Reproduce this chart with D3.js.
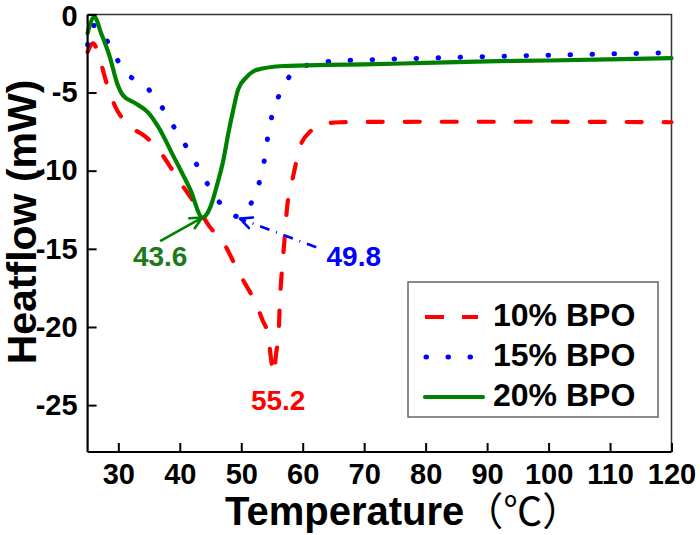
<!DOCTYPE html>
<html>
<head>
<meta charset="utf-8">
<script src="https://cdn.jsdelivr.net/npm/d3@7/dist/d3.min.js"></script>
<style>
  body { margin: 0; background: #fff; }
  svg { display: block; }
  text { font-family: "Liberation Sans", Arial, "Noto Sans CJK SC", sans-serif; font-weight: bold; }
</style>
</head>
<body>
<svg id="chart" width="700" height="535"></svg>
<script>
// ---------- data ----------
const seriesNames = ["10% BPO", "15% BPO", "20% BPO"];
const seriesColors = ["#ff0000", "#0000ff", "#008000"];

const temp10 = [25, 25.9, 27, 28.1, 29.5, 31.1, 32.5, 34.0, 36.8, 38.7, 40, 42.8, 44.7, 47.4, 48.7, 50.3, 52.0, 53.4, 54.4, 54.8, 55.25, 55.7, 56.06, 56.3, 56.5, 57.0, 57.5, 58.1, 58.8, 59.4, 61.2, 63.9, 66, 70, 80, 90, 100, 110, 120];
const flow10 = [-2.4, -1.85, -2.9, -4.4, -5.9, -6.85, -7.35, -7.7, -8.8, -9.9, -10.7, -12.3, -13.5, -14.8, -15.8, -17.0, -18.2, -19.5, -20.6, -21.9, -23.0, -21.6, -20.6, -18.2, -17.0, -14.6, -12.2, -11.0, -9.7, -8.66, -7.5, -6.98, -6.9, -6.88, -6.87, -6.87, -6.87, -6.88, -6.9];

const temp15 = [25, 25.7, 26.8, 28.9, 31.1, 34.6, 37.3, 39.5, 41.7, 43.8, 46.0, 48.0, 49.5, 50.8, 51.7, 53.1, 53.9, 54.4, 55.2, 56.6, 57.8, 59.3, 62.8, 66.6, 70.2, 80, 90, 100, 110, 120];
const flow15 = [-1.95, -0.7, -0.8, -2.27, -3.66, -4.66, -6.06, -7.5, -8.87, -10.36, -11.8, -12.6, -12.95, -12.6, -12.0, -10.5, -9.0, -7.6, -6.2, -4.83, -4.0, -3.5, -3.08, -2.96, -2.91, -2.8, -2.7, -2.62, -2.53, -2.45];

const temp20 = [25, 26.1, 27.2, 28.6, 29.8, 30.8, 32.7, 34.9, 36.5, 39.0, 41.7, 43.7, 45.0, 46.0, 47.1, 47.9, 48.7, 49.5, 50.9, 52.5, 56.9, 63.9, 70, 80, 90, 100, 110, 120];
const flow20 = [-1.2, -0.15, -1.2, -2.7, -4.4, -5.2, -5.67, -6.3, -7.2, -9.1, -11.2, -13.0, -12.3, -11.0, -9.3, -7.6, -6.1, -4.8, -4.0, -3.55, -3.3, -3.23, -3.2, -3.1, -3.0, -2.95, -2.88, -2.8];

const xTicks = [30, 40, 50, 60, 70, 80, 90, 100, 110, 120];
const yTicks = [0, -5, -10, -15, -20, -25];

// annotations: label text, label position, arrow tail -> tip (data units)
const annLabels = ["43.6", "49.8", "55.2"];
const annLabelT = [36.8, 68.3, 56.0];
const annLabelV = [-16.1, -16.1, -25.3];
const arrowTailT = [36.8, 62.2];
const arrowTailV = [-14.5, -14.9];
const arrowTipT = [43.65, 49.8];
const arrowTipV = [-13.0, -13.07];

// ---------- layout ----------
const svg = d3.select("#chart");
const L = 87.6, R = 671.5, T = 14.4, B = 452;
const x = d3.scaleLinear().domain([25, 120]).range([L, R]);
const y = d3.scaleLinear().domain([-28, 0]).range([B, T]);

// frame (top/right)
svg.append("path")
  .attr("d", `M${L},${T}H${R}V${B}`)
  .attr("fill", "none").attr("stroke", "#333").attr("stroke-width", 1.5);

// series
const line = d3.line().x(d => x(d[0])).y(d => y(d[1])).curve(d3.curveMonotoneX);
const series = [
  d3.zip(temp10, flow10),
  d3.zip(temp15, flow15),
  d3.zip(temp20, flow20)
];
const dashes = ["15,22", "0.5,21.5", null];
const widths = [4.2, 5, 4.2];
const g = svg.append("g");
series.forEach((s, i) => {
  const p = g.append("path").datum(s)
    .attr("d", line)
    .attr("fill", "none")
    .attr("stroke", seriesColors[i])
    .attr("stroke-width", widths[i])
    .attr("stroke-linecap", "round")
    .attr("stroke-linejoin", "round");
  if (dashes[i]) p.attr("stroke-dasharray", dashes[i]);
});

// axes
const xAxis = d3.axisBottom(x).tickValues(xTicks).tickSizeInner(-9).tickSizeOuter(0).tickPadding(11).tickFormat(d3.format("d"));
const gx = svg.append("g").attr("transform", `translate(0,${B})`).call(xAxis);
const yAxis = d3.axisLeft(y).tickValues(yTicks).tickSizeInner(-9).tickSizeOuter(0).tickPadding(10).tickFormat(d => d === 0 ? "0" : String(d));
const gy = svg.append("g").attr("transform", `translate(${L},0)`).call(yAxis);
[gx, gy].forEach(a => {
  a.select(".domain").attr("stroke", "#000").attr("stroke-width", 2.2);
  a.selectAll(".tick line").attr("stroke", "#000").attr("stroke-width", 2);
  a.selectAll(".tick text").attr("fill", "#000").style("font-size", "29px").style("font-weight", "bold")
    .style("font-family", '"Liberation Sans", Arial, sans-serif');
});
gx.select(".domain").attr("d", `M${L},0H${R}`);
gy.select(".domain").attr("d", `M0,${B}V${T}`);
gy.selectAll(".tick text").filter(d => d === 0).attr("dy", "0.36em").attr("y", 1);

// axis titles
const xt = svg.append("text").attr("x", 225).attr("y", 525)
  .style("font-size", "40px").attr("fill", "#000");
xt.append("tspan").text("Temperature");
xt.append("tspan").style("font-family", '"Noto Sans CJK SC", sans-serif')
  .style("font-weight", "normal").style("font-size", "39px").text("（℃）");
svg.append("text")
  .attr("transform", "translate(36,222) rotate(-90)")
  .attr("text-anchor", "middle")
  .style("font-size", "41px").attr("fill", "#000")
  .text("Heatflow (mW)");

// arrows
const arrowColors = [seriesColors[2], seriesColors[1]];
const arrowDash = [null, "10,7,1,7"];
arrowTipT.forEach((t, i) => {
  const x1 = x(arrowTailT[i]), y1 = y(arrowTailV[i]);
  const x2 = x(t), y2 = y(arrowTipV[i]);
  const ln = svg.append("line").attr("x1", x1).attr("y1", y1).attr("x2", x2).attr("y2", y2)
    .attr("stroke", arrowColors[i]).attr("stroke-width", 2.6);
  if (arrowDash[i]) ln.attr("stroke-dasharray", arrowDash[i]);
  const ang = Math.atan2(y2 - y1, x2 - x1);
  const hl = 13, ha = 0.45;
  const p1 = [x2 - hl * Math.cos(ang - ha), y2 - hl * Math.sin(ang - ha)];
  const p2 = [x2 - hl * Math.cos(ang + ha), y2 - hl * Math.sin(ang + ha)];
  svg.append("path").attr("d", `M${p1}L${x2},${y2}L${p2}`)
    .attr("fill", "none").attr("stroke", arrowColors[i]).attr("stroke-width", 2.6)
    .attr("stroke-linecap", "round").attr("stroke-linejoin", "round");
});

// annotation labels
const annColors = ["#1a7a1a", "#0000ff", "#ff0000"];
annLabels.forEach((t, i) => {
  svg.append("text").attr("x", x(annLabelT[i])).attr("y", y(annLabelV[i]))
    .attr("text-anchor", "middle").style("font-size", "28px")
    .attr("fill", annColors[i]).text(t);
});

// legend
const lg = svg.append("g");
lg.append("rect").attr("x", 408).attr("y", 282).attr("width", 250).attr("height", 135)
  .attr("fill", "#fff").attr("stroke", "#666").attr("stroke-width", 1.5);
const rowY = [317, 357, 397];
const legDash = ["19,18", "0.5,21.5", null];
seriesNames.forEach((n, i) => {
  const ln = lg.append("line").attr("x1", i === 1 ? 426 : 425).attr("x2", i === 2 ? 483 : 478)
    .attr("y1", rowY[i]).attr("y2", rowY[i])
    .attr("stroke", seriesColors[i]).attr("stroke-width", widths[i])
    .attr("stroke-linecap", i === 0 ? "butt" : "round");
  if (legDash[i]) ln.attr("stroke-dasharray", legDash[i]);
  lg.append("text").attr("x", 493).attr("y", rowY[i] + 9)
    .style("font-size", "32px").attr("fill", "#000").text(n);
});
</script>
</body>
</html>
